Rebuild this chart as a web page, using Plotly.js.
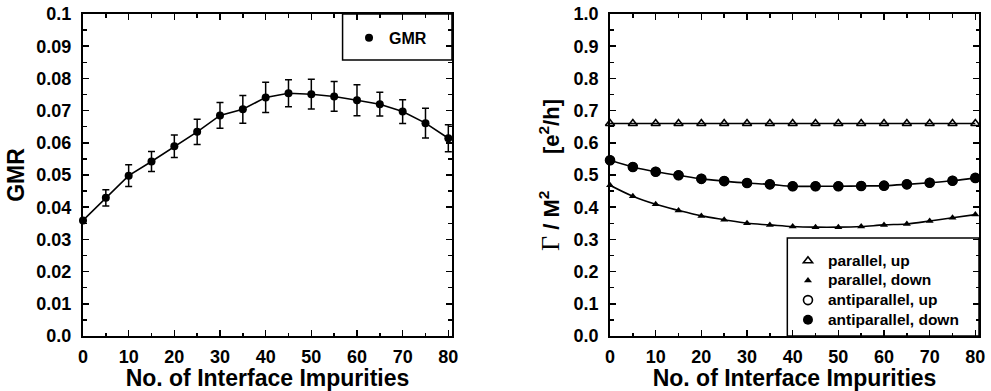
<!DOCTYPE html>
<html>
<head>
<meta charset="utf-8">
<script src="https://cdn.plot.ly/plotly-3.0.1.min.js"></script>
<style>html,body{margin:0;padding:0;background:#fff;}#chart{width:991px;height:391px;}</style>
</head>
<body>
<div id="chart"></div>
<script>
// ---- data ----
var impurities = [0, 5, 10, 15, 20, 25, 30, 35, 40, 45, 50, 55, 60, 65, 70, 75, 80];
var gmr = [0.0359, 0.0429, 0.0498, 0.0542, 0.0589, 0.0634, 0.0685, 0.0704, 0.0741, 0.0754, 0.0751, 0.0744, 0.0732, 0.0720, 0.0697, 0.0661, 0.0614];
var gmrErr = [0, 0.0025, 0.0034, 0.0031, 0.0035, 0.0039, 0.0040, 0.0043, 0.0047, 0.0042, 0.0046, 0.0046, 0.0048, 0.0037, 0.0037, 0.0046, 0.0042];
var parallelUp = [0.66, 0.66, 0.66, 0.66, 0.66, 0.66, 0.66, 0.66, 0.66, 0.66, 0.66, 0.66, 0.66, 0.66, 0.66, 0.66, 0.66];
var parallelDown = [0.468, 0.434, 0.409, 0.390, 0.373, 0.361, 0.350, 0.345, 0.340, 0.338, 0.338, 0.340, 0.345, 0.348, 0.357, 0.367, 0.377];
var antiparallelUp = [0.546, 0.525, 0.510, 0.499, 0.488, 0.481, 0.475, 0.471, 0.465, 0.465, 0.465, 0.466, 0.467, 0.471, 0.476, 0.482, 0.491];
var antiparallelDown = [0.546, 0.525, 0.510, 0.499, 0.488, 0.481, 0.475, 0.471, 0.465, 0.465, 0.465, 0.466, 0.467, 0.471, 0.476, 0.482, 0.491];
var xTickVals = [0, 10, 20, 30, 40, 50, 60, 70, 80];
var xTickText = ['0', '10', '20', '30', '40', '50', '60', '70', '80'];
var gmrTickVals = [0, 0.01, 0.02, 0.03, 0.04, 0.05, 0.06, 0.07, 0.08, 0.09, 0.1];
var gmrTickText = ['0.0', '0.01', '0.02', '0.03', '0.04', '0.05', '0.06', '0.07', '0.08', '0.09', '0.1'];
var gTickVals = [0, 0.1, 0.2, 0.3, 0.4, 0.5, 0.6, 0.7, 0.8, 0.9, 1.0];
var gTickText = ['0.0', '0.1', '0.2', '0.3', '0.4', '0.5', '0.6', '0.7', '0.8', '0.9', '1.0'];
var xTitle = 'No. of Interface Impurities';
var leftYTitle = 'GMR';
var rightYTitle = '<span style="font-family:\'Liberation Serif\',serif;font-weight:normal;font-size:26px">\u0393</span> / M<sup>2</sup>\u00a0\u00a0\u00a0\u00a0\u00a0\u00a0[e<sup>2</sup>/h]';
var legendNames = ['parallel, up', 'parallel, down', 'antiparallel, up', 'antiparallel, down'];

var FONT = 'Liberation Sans, Arial, sans-serif';
var bold = function(arr){ return arr.map(function(s){ return '<b>' + s + '</b>'; }); };
var big = function(s){ return '<span style="font-size:15.5px"><b>' + s + '</b></span>'; };

var traces = [
  // left panel
  {x: impurities, y: gmr, xaxis: 'x', yaxis: 'y', type: 'scatter', mode: 'lines',
   line: {color: '#000', width: 1.6},
   error_y: {type: 'data', array: gmrErr, visible: true, color: '#000', thickness: 1.5, width: 3.5},
   cliponaxis: false, showlegend: false, hoverinfo: 'skip'},
  {x: impurities, y: gmr, xaxis: 'x', yaxis: 'y', type: 'scatter', mode: 'markers', name: '<b>GMR</b>',
   marker: {color: '#000', size: 8, symbol: 'circle'}, cliponaxis: false, showlegend: true, legend: 'legend'},
  // right panel lines
  {x: impurities, y: parallelUp, xaxis: 'x2', yaxis: 'y2', mode: 'lines', line: {color: '#000', width: 1.6, shape: 'spline'}, showlegend: false, hoverinfo: 'skip'},
  {x: impurities, y: parallelDown, xaxis: 'x2', yaxis: 'y2', mode: 'lines', line: {color: '#000', width: 1.6, shape: 'spline'}, showlegend: false, hoverinfo: 'skip'},
  {x: impurities, y: antiparallelDown, xaxis: 'x2', yaxis: 'y2', mode: 'lines', line: {color: '#000', width: 1.6, shape: 'spline'}, showlegend: false, hoverinfo: 'skip'},
  // right panel markers
  {x: impurities, y: parallelUp, xaxis: 'x2', yaxis: 'y2', mode: 'markers', name: big(legendNames[0]),
   marker: {color: '#000', size: 8, symbol: 'triangle-up-open', line: {width: 1.6, color: '#000'}}, cliponaxis: false, legend: 'legend2'},
  {x: impurities, y: parallelDown, xaxis: 'x2', yaxis: 'y2', mode: 'markers', name: big(legendNames[1]),
   marker: {color: '#000', size: 7, symbol: 'triangle-up'}, cliponaxis: false, legend: 'legend2'},
  {x: impurities, y: antiparallelUp, xaxis: 'x2', yaxis: 'y2', mode: 'markers', name: big(legendNames[2]),
   marker: {color: '#000', size: 9, symbol: 'circle-open', line: {width: 1.6, color: '#000'}}, cliponaxis: false, legend: 'legend2'},
  {x: impurities, y: antiparallelDown, xaxis: 'x2', yaxis: 'y2', mode: 'markers', name: big(legendNames[3]),
   marker: {color: '#000', size: 10, symbol: 'circle'}, cliponaxis: false, legend: 'legend2'}
];

var tf = {family: FONT, size: 18, color: '#000', weight: 700};
var titleFont = {family: FONT, size: 23, color: '#000', weight: 700};
var minorBase = {ticks: 'inside', ticklen: 3.5, tickwidth: 1.5, tickcolor: '#000', showgrid: false};

function xAxis(domain, anchor) {
  return {domain: domain, anchor: anchor, range: [0, 80.8], tickmode: 'array', tickvals: xTickVals, ticktext: bold(xTickText),
    ticks: 'inside', ticklen: 6, tickwidth: 1.5, tickcolor: '#000', mirror: 'ticks',
    showline: true, linecolor: '#000', linewidth: 2, showgrid: false, zeroline: false,
    minor: Object.assign({dtick: 5, tick0: 0}, minorBase),
    tickfont: tf, ticklabelstandoff: 3,
    title: {text: xTitle, font: titleFont, standoff: 0}};
}

var layout = {
  width: 991, height: 391,
  margin: {l: 83, r: 12, t: 14, b: 55},
  paper_bgcolor: '#fff', plot_bgcolor: '#fff',
  font: {family: FONT, color: '#000'},
  xaxis: xAxis([0, 0.4118], 'y'),
  xaxis2: xAxis([0.5882, 1], 'y2'),
  yaxis: {domain: [0, 1], anchor: 'x', range: [0, 0.1], tickmode: 'array', tickvals: gmrTickVals, ticktext: bold(gmrTickText),
    ticks: 'inside', ticklen: 6, tickwidth: 1.5, tickcolor: '#000', mirror: 'ticks',
    showline: true, linecolor: '#000', linewidth: 2, showgrid: false, zeroline: false,
    minor: Object.assign({dtick: 0.005, tick0: 0}, minorBase),
    tickfont: tf, ticklabelstandoff: 6,
    title: {text: leftYTitle, font: titleFont, standoff: 5}},
  yaxis2: {domain: [0, 1], anchor: 'x2', range: [0, 1], tickmode: 'array', tickvals: gTickVals, ticktext: bold(gTickText),
    ticks: 'inside', ticklen: 6, tickwidth: 1.5, tickcolor: '#000', mirror: 'ticks',
    showline: true, linecolor: '#000', linewidth: 2, showgrid: false, zeroline: false,
    minor: Object.assign({dtick: 0.05, tick0: 0}, minorBase),
    tickfont: tf, ticklabelstandoff: 6,
    title: {text: rightYTitle, font: {family: FONT, size: 22, color: '#000', weight: 700}, standoff: 8}},
  shapes: [
    {type: 'rect', xref: 'x domain', yref: 'y domain', x0: 0.7035, x1: 1, y0: 0.857, y1: 1, line: {color: '#000', width: 1.5}, fillcolor: 'rgba(255,255,255,0)', layer: 'above'},
    {type: 'rect', xref: 'x2 domain', yref: 'y2 domain', x0: 0.4805, x1: 1, y0: 0, y1: 0.304, line: {color: '#000', width: 1.5}, fillcolor: 'rgba(255,255,255,0)', layer: 'above'}
  ],
  legend: {x: 0.2969, xanchor: 'left', y: 0.979, yanchor: 'top', bgcolor: 'rgba(0,0,0,0)', borderwidth: 0,
    font: {family: FONT, size: 16, color: '#000', weight: 700}},
  legend2: {x: 0.7868, xanchor: 'left', y: 0.2795, yanchor: 'top', bgcolor: 'rgba(0,0,0,0)', borderwidth: 0,
    font: {family: FONT, size: 12.8, color: '#000', weight: 700}}
};

Plotly.newPlot('chart', traces, layout, {displayModeBar: false, staticPlot: true});
</script>
</body>
</html>
